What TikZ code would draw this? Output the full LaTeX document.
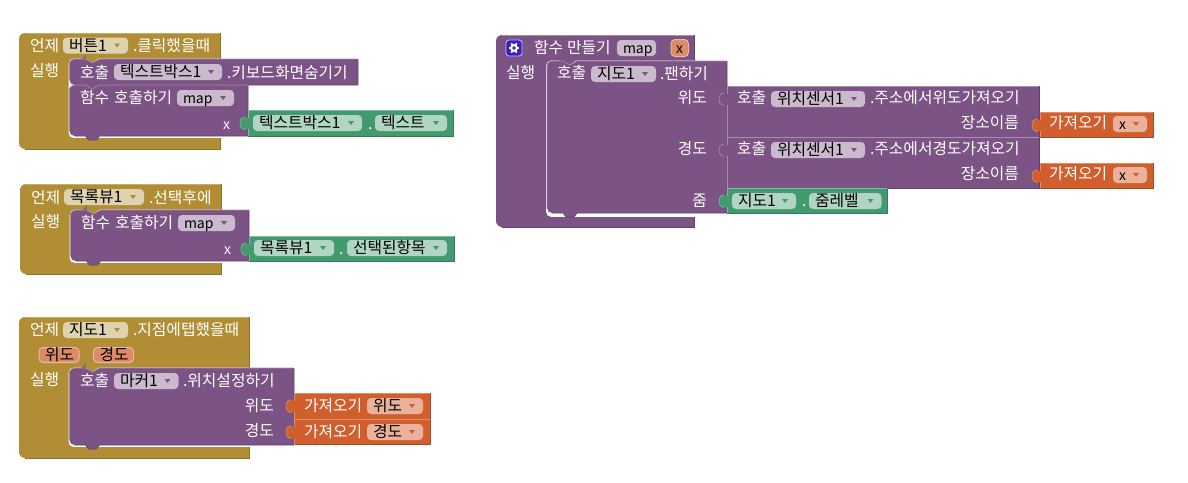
\documentclass[tikz,border=0pt]{standalone}
\usepackage{fontspec}
\setmainfont{Noto Sans CJK KR}
\definecolor{gold}{HTML}{B18E35}\definecolor{golddk}{HTML}{8F7228}\definecolor{goldlt}{HTML}{C8AD68}\definecolor{goldpill}{HTML}{DFD2AE}
\definecolor{purp}{HTML}{7C5385}\definecolor{purpdk}{HTML}{634269}\definecolor{purplt}{HTML}{A68FAC}\definecolor{purppill}{HTML}{CBBACE}
\definecolor{grn}{HTML}{439A6E}\definecolor{grndk}{HTML}{357B58}\definecolor{grnlt}{HTML}{7FBCA0}\definecolor{grnpill}{HTML}{B0D5C3}
\definecolor{org}{HTML}{D05F2D}\definecolor{orgdk}{HTML}{A64C24}\definecolor{orglt}{HTML}{E08F6B}\definecolor{orgpill}{HTML}{ECB19A}
\definecolor{parm}{HTML}{DD8A68}\definecolor{parmlt}{HTML}{EBB8A0}\definecolor{gearblue}{HTML}{3A1FC6}
\newcounter{nn}
\newcommand{\Lat}[1]{{\fontsize{14}{14}\selectfont #1}}
\tikzset{
 lbl/.style={inner sep=0pt,outer sep=0pt,font=\fontsize{15.8}{15.8}\selectfont,text=white},
 pilltext/.style={lbl,text=black},
 edge/.style={line width=.6pt,line join=round}
}
\newcommand{\Lbl}[3]{\stepcounter{nn}\node[lbl,anchor=base west] (n\thenn) at ({#1},{#2+6.3}) {#3};}
\newcommand{\Rbl}[3]{\stepcounter{nn}\node[lbl,anchor=base east] (n\thenn) at ({#1},{#2+6.3}) {#3};}
\newcommand{\Pill}[6]{\fill[#4,rounded corners=4pt] ({#1},{#3-8}) rectangle ({#2},{#3+8});
 \stepcounter{nn}\node[pilltext,anchor=base west] (n\thenn) at ({#1+6},{#3+5.8}) {#6};
 \fill[#5] ({#2-14},{#3-2}) -- ({#2-8},{#3-2}) -- ({#2-11},{#3+2}) -- cycle;}
% hat block: stem xl xr ytop yrow xin ybar ybot
\newcommand{\Hat}[8]{\path[fill=#1] ({#3},{#4}) [rounded corners=6pt] -- ({#2},{#4}) -- ({#2},{#8}) [sharp corners] -- ({#3},{#8}) -- ({#3},{#7}) [rounded corners=5pt] -- ({#6},{#7}) -- ({#6},{#5}) [sharp corners] -- ({#6+16},{#5}) -- ({#6+23},{#5+5}) -- ({#6+30},{#5}) -- ({#3},{#5}) -- cycle;
 \draw[#1lt,line width=.6pt] ({#2+6},{#4}) -- ({#3},{#4});
 \draw[#1dk,line width=.7pt] ({#2+6},{#8}) -- ({#3},{#8}) -- ({#3},{#7});
 \draw[#1dk,line width=.6pt] ({#3},{#4}) -- ({#3},{#5});}
\newcommand{\Stmt}[4]{\path[fill=purp] ({#1+16},{#2}) -- ({#1+23},{#2+4}) -- ({#1+30},{#2}) -- ({#3},{#2}) -- ({#3},{#4}) -- ({#1+30},{#4}) -- ({#1+27},{#4+4}) -- ({#1+19},{#4+4}) -- ({#1+16},{#4}) [rounded corners=5pt] -- ({#1},{#4}) -- ({#1},{#2}) -- ({#1+16},{#2}) [sharp corners] -- cycle;
 \draw[purpdk,line width=.6pt] ({#3},{#2}) -- ({#3},{#4}) -- ({#1+30},{#4}) -- ({#1+27},{#4+4}) -- ({#1+19},{#4+4}) -- ({#1+16},{#4}) -- ({#1+5},{#4});
 \draw[purplt,line width=.6pt] ({#1},{#4-5}) -- ({#1},{#2+3}) -- ({#1+3},{#2}) -- ({#1+16},{#2}) -- ({#1+23},{#2+4}) -- ({#1+30},{#2}) -- ({#3},{#2});}
\newcommand{\Val}[7]{\path[fill=#5] ({#1},{#2}) -- ({#3},{#2}) -- ({#3},{#4}) -- ({#1},{#4}) -- ({#1},{#2+19}) .. controls ({#1-3},{#2+21}) and ({#1-8},{#2+20}) .. ({#1-8},{#2+13}) .. controls ({#1-8},{#2+6}) and ({#1-3},{#2+6}) .. ({#1},{#2+8}) -- cycle;
 \draw[#6,line width=.6pt] ({#3},{#2}) -- ({#3},{#4}) -- ({#1},{#4});
 \draw[#7,line width=.6pt] ({#3},{#2}) -- ({#1},{#2}) -- ({#1},{#2+8});
 \draw[#7,line width=.6pt] ({#1-3},{#2+7}) .. controls ({#1-6},{#2+7}) and ({#1-8},{#2+9}) .. ({#1-8},{#2+13}) .. controls ({#1-8},{#2+17}) and ({#1-6},{#2+19.5}) .. ({#1-3},{#2+19.5});
 \draw[#7,line width=.6pt] ({#1},{#2+19}) -- ({#1},{#4});}
\begin{document}
\begin{tikzpicture}[x=1pt,y=-1pt]
\useasboundingbox (0,0) rectangle (1188,482);
\fill[white] (0,0) rectangle (1188,482);
% ---------- event 1
\Hat{gold}{19}{220.5}{33}{58.5}{68.5}{138}{149}
\Lbl{30}{45}{언제}\Pill{63}{128}{45.5}{goldpill}{gold}{버튼1}\Lbl{133}{45}{.클릭했을때}
\Lbl{30}{70}{실행}
\Stmt{69.5}{59}{358}{85}
\Lbl{80}{72}{호출}\Pill{114}{222}{72}{purppill}{purp}{텍스트박스1}\Lbl{227}{72}{.키보드화면숨기기}
\Stmt{69.5}{85}{248}{136}
\Lbl{80}{97}{함수\hspace{5pt}호출하기}\Pill{177}{234}{98}{purppill}{purp}{\Lat{map}}
\Rbl{230}{123}{\Lat{x}}
\Val{248}{110}{453}{136}{grn}{grndk}{grnlt}
\Pill{253}{362}{123}{grnpill}{grn}{텍스트박스1}\Lbl{368}{123}{.}\Pill{375}{447}{123}{grnpill}{grn}{텍스트}
% ---------- event 2
\Hat{gold}{20}{221}{184}{209.5}{69.5}{263}{274}
\Lbl{31}{197}{언제}\Pill{64}{144}{197}{goldpill}{gold}{목록뷰1}\Lbl{149}{197}{.선택후에}
\Lbl{31}{221}{실행}
\Stmt{70.5}{210}{249}{261}
\Lbl{81}{222}{함수\hspace{5pt}호출하기}\Pill{178}{235}{223}{purppill}{purp}{\Lat{map}}
\Rbl{231}{248}{\Lat{x}}
\Val{249}{236}{454}{261}{grn}{grndk}{grnlt}
\Pill{254}{334}{248}{grnpill}{grn}{목록뷰1}\Lbl{339}{248}{.}\Pill{347}{447}{248}{grnpill}{grn}{선택된항목}
% ---------- event 3
\Hat{gold}{19}{249.5}{317}{367.5}{68.5}{447}{458}
\Lbl{30}{329}{언제}\Pill{63}{128}{330}{goldpill}{gold}{지도1}\Lbl{133}{329}{.지점에탭했을때}
\fill[parm,draw=parmlt,line width=1pt,rounded corners=4pt] (39,347.5) rectangle (79,362.5);
\Lbl{45}{354}{\textcolor{black}{위도}}
\fill[parm,draw=parmlt,line width=1pt,rounded corners=4pt] (93.5,347.5) rectangle (133.5,362.5);
\Lbl{99.5}{354}{\textcolor{black}{경도}}
\Lbl{30}{379}{실행}
\Stmt{69.5}{368}{294}{445}
\Lbl{80}{380}{호출}\Pill{114}{178.5}{381}{purppill}{purp}{마커1}\Lbl{183}{380}{.위치설정하기}
\Rbl{274}{405}{위도}\Rbl{274}{430}{경도}
\Val{294}{393}{430}{419}{org}{orgdk}{orglt}
\Pill{367}{423}{406}{orgpill}{org}{위도}\Lbl{304}{405}{가져오기}
\Val{294}{419}{430}{444.5}{org}{orgdk}{orglt}
\Pill{367}{423}{432}{orgpill}{org}{경도}\Lbl{304}{431}{가져오기}
% ---------- procedure
\Hat{purp}{496}{694}{35}{60.5}{546}{217}{227}
\fill[gearblue,draw=white!70!gearblue,line width=.8pt,rounded corners=3pt] (506,40) rectangle (522,56);
\fill[white] (514,48) circle (4);
\foreach \a in {0,60,...,300}{\draw[white,line width=1.8pt] (514,48) -- +(\a:5.4);}
\fill[gearblue] (514,48) circle (1.8);
\Lbl{534}{47}{함수\hspace{4pt}만들기}
\fill[purppill,rounded corners=4pt] (617,40) rectangle (656,56);
\Lbl{623}{47.5}{\textcolor{black}{\Lat{map}}}
\fill[parm,draw=parmlt,line width=1pt,rounded corners=4pt] (671,39.5) rectangle (688.5,56.5);
\Lbl{676}{47.5}{\textcolor{black}{\Lat{x}}}
\Lbl{506}{72}{실행}
\Stmt{547}{61}{727}{213}
\Lbl{557}{72}{호출}\Pill{591}{656}{74}{purppill}{purp}{지도1}\Lbl{660}{73}{.팬하기}
\Rbl{707}{97}{위도}\Rbl{707}{148}{경도}\Rbl{707}{200}{줌}
% sub-call 1
\Val{727}{86}{1039}{137}{purp}{purpdk}{purplt}
\Lbl{737}{97}{호출}\Pill{771}{865}{99}{purppill}{purp}{위치센서1}\Lbl{870}{97}{.주소에서위도가져오기}
\Rbl{1019}{122}{장소이름}
\Val{1040}{112}{1153}{137}{org}{orgdk}{orglt}
\Lbl{1049}{122}{가져오기}\Pill{1113}{1147}{124}{orgpill}{org}{\Lat{x}}
% sub-call 2
\Val{727}{137}{1039}{188}{purp}{purpdk}{purplt}
\Lbl{737}{148}{호출}\Pill{771}{865}{150}{purppill}{purp}{위치센서1}\Lbl{870}{148}{.주소에서경도가져오기}
\Rbl{1019}{173}{장소이름}
\Val{1040}{163}{1153}{188}{org}{orgdk}{orglt}
\Lbl{1049}{173}{가져오기}\Pill{1113}{1147}{175}{orgpill}{org}{\Lat{x}}
% zoom getter
\Val{727}{188}{887}{213}{grn}{grndk}{grnlt}
\Pill{732}{796}{201}{grnpill}{grn}{지도1}\Lbl{802}{200}{.}\Pill{809}{881.5}{201}{grnpill}{grn}{줌레벨}
\end{tikzpicture}
\end{document}
